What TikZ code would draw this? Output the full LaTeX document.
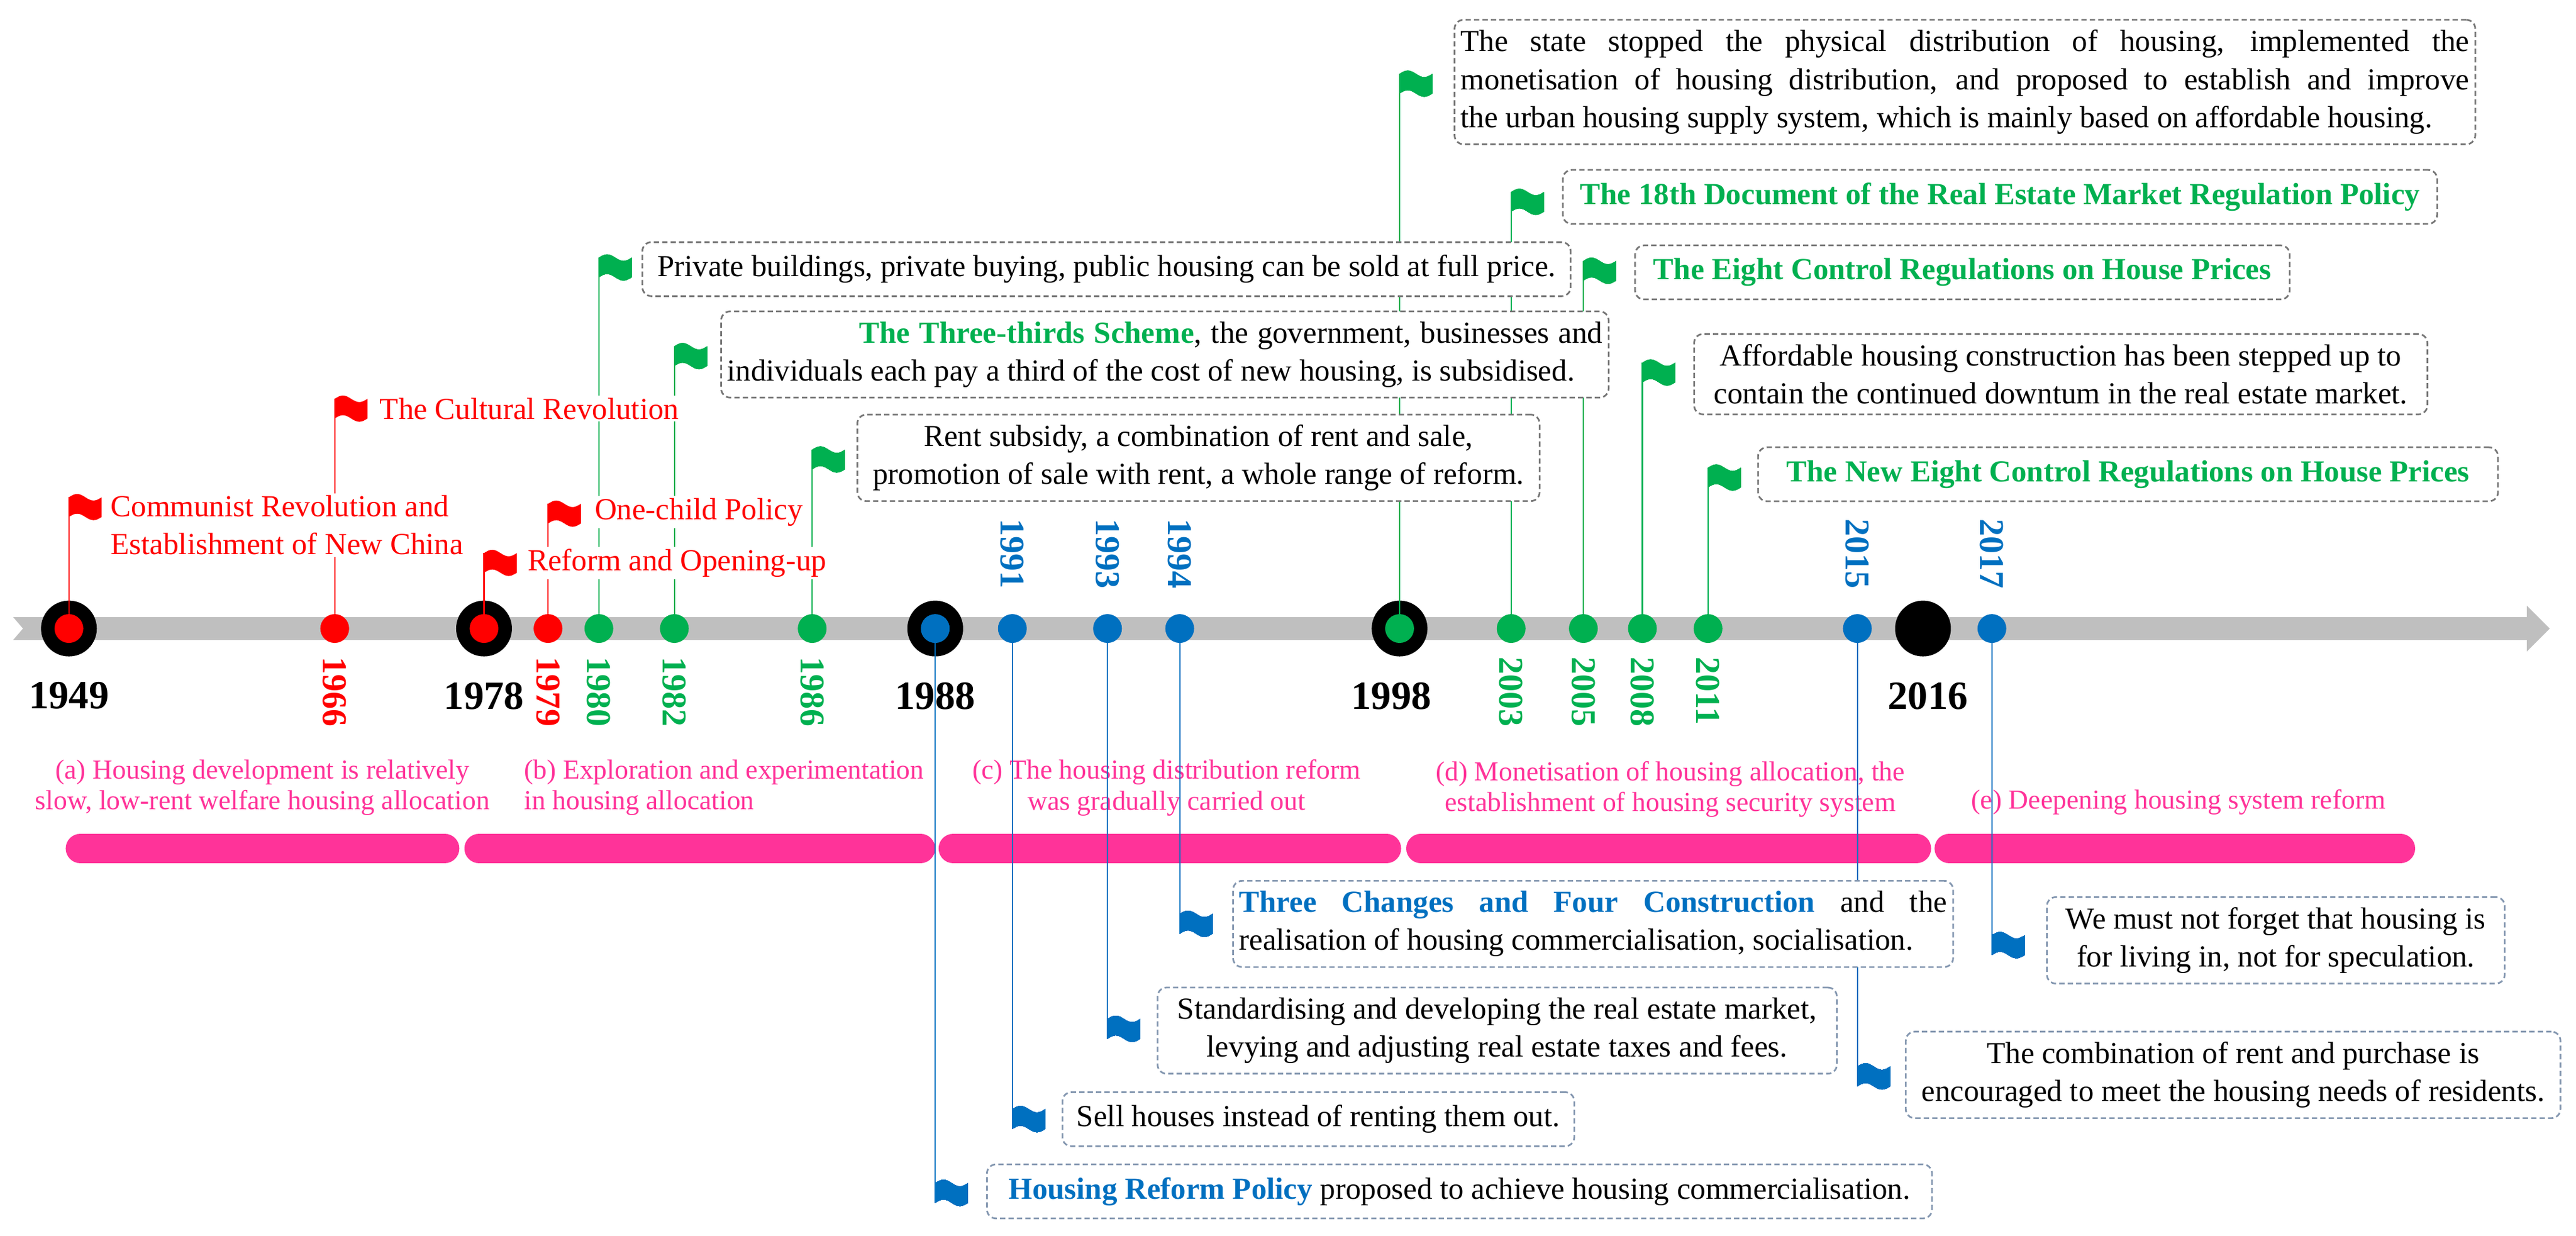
\documentclass[tikz,border=0pt]{standalone}
\usepackage{fontspec}
\setmainfont{Liberation Serif}
\definecolor{evred}{RGB}{255,0,0}
\definecolor{evgreen}{RGB}{0,176,80}
\definecolor{evblue}{RGB}{0,112,192}
\definecolor{evpink}{RGB}{255,51,153}
\definecolor{bargray}{RGB}{191,191,191}
\definecolor{boxgray}{RGB}{118,118,118}
\definecolor{boxblue}{RGB}{132,151,176}
\newcommand{\flagat}[3]{%
  \fill[#2, shift={(#1)}, yshift=#3] (0,0) sin (5,-2) cos (10,0) sin (15,2) cos (20,0)
    -- (20,12) sin (15,14) cos (10,12) sin (5,10) cos (0,12) -- cycle;}
\begin{document}
\begin{tikzpicture}[x=0.02734cm, y=-0.02734cm,
  dot/.style={circle, minimum size=0.48cm, inner sep=0pt},
  bigdot/.style={circle, fill=black, minimum size=0.93cm, inner sep=0pt},
  pole/.style={line width=0.6pt},
  bigyear/.style={font=\fontsize{19}{20}\selectfont\bfseries},
  smallyear/.style={font=\fontsize{16.5}{20}\selectfont\bfseries, rotate=-90, inner sep=0pt},
  event/.style={text=evred, fill=white, inner sep=1pt, anchor=west, align=left, font=\fontsize{14.5}{18}\selectfont},
  box/.style={draw=boxgray, dashed, dash pattern=on 2.5pt off 1.5pt, line width=0.8pt, rounded corners=0.15cm,
    fill=white, inner xsep=0.1cm, inner ysep=0.17cm, minimum height=0.9cm, anchor=west,
    font=\fontsize{14.5}{18}\selectfont},
  bbox/.style={box, draw=boxblue},
  gtitle/.style={text=evgreen, font=\fontsize{14.5}{18}\selectfont\bfseries},
  period/.style={evpink, line width=0.49cm, line cap=round},
  phase/.style={text=evpink, inner sep=1pt, font=\fontsize{13}{14.7}\selectfont}]
\useasboundingbox (0,0) rectangle (1570,753);
%period bars
\draw[period] (49,517) -- (271,517);
\draw[period] (292,517) -- (561,517);
\draw[period] (581,517) -- (845,517);
\draw[period] (866,517) -- (1168,517);
\draw[period] (1188,517) -- (1463,517);
%period labels
\node[phase, align=center] (pa) at (160,480) {(a) Housing development is relatively\\slow, low-rent welfare housing allocation};
\node[phase, align=left, anchor=west] (pb) at (318,480) {(b) Exploration and experimentation\\in housing allocation};
\node[phase, align=center] (pc) at (711,480) {(c) The housing distribution reform\\was gradually carried out};
\node[phase, align=center] (pd) at (1018,481) {(d) Monetisation of housing allocation, the\\establishment of housing security system};
\node[phase, anchor=west] (pe) at (1200,489) {(e) Deepening housing system reform};
%time axis
\fill[bargray] (8,376) -- (1540,376) -- (1540,369) -- (1554,383) -- (1540,397) -- (1540,390) -- (8,390) -- (14,383) -- cycle;
%flag ends
\coordinate (f1949) at (42,303);
\coordinate (f1966) at (204,243);
\coordinate (f1978) at (295,337);
\coordinate (f1979) at (334,307);
\coordinate (f1980) at (365,157);
\coordinate (f1982) at (411,211);
\coordinate (f1986) at (495,274);
\coordinate (f1998) at (853,45);
\coordinate (f2003) at (921,117);
\coordinate (f2005) at (965,159);
\coordinate (f2008) at (1001,221);
\coordinate (f2011) at (1041,285);
\coordinate (f1988) at (570,733);
\coordinate (f1991) at (617,688);
\coordinate (f1993) at (675,633);
\coordinate (f1994) at (719,569);
\coordinate (f2015) at (1132,662);
\coordinate (f2017) at (1214,582);
%big dots
\foreach \x/\yr/\c in {42/1949/evred, 295/1978/evred, 570/1988/evblue, 853/1998/evgreen}
{
  \node[bigdot] (y\yr) at (\x,383) {};
}
\node[bigdot] (y2016) at (1172,383) {};
%small dots (placed first, drawn again over the poles)
\foreach \x/\yr in {204/1966, 334/1979, 365/1980, 411/1982, 495/1986, 921/2003, 965/2005, 1001/2008, 1041/2011,
  617/1991, 675/1993, 719/1994, 1132/2015, 1214/2017}
  \coordinate (y\yr) at (\x,383);
%poles
\foreach \yr in {1949,1966,1978,1979}
  \draw[pole, evred] (y\yr.center) -- (f\yr);
\foreach \yr in {1980,1982,1986,1998,2003,2005,2008,2011}
  \draw[pole, evgreen] (y\yr.center) -- (f\yr);
\foreach \yr in {1988,1991,1993,1994,2015,2017}
  \draw[pole, evblue] (y\yr.center) -- (f\yr);
%inner dots and years
\foreach \x/\yr/\c in {42/1949/evred, 295/1978/evred, 570/1988/evblue, 853/1998/evgreen}
  \node[dot, fill=\c] at (\x,383) {};
\foreach \x/\yr in {42/1949, 295/1978, 570/1988, 848/1998, 1175/2016}
  \node[bigyear] (t\yr) at (\x,424) {\yr};
\foreach \x/\yr/\c in {204/1966/evred, 334/1979/evred, 365/1980/evgreen, 411/1982/evgreen, 495/1986/evgreen,
  921/2003/evgreen, 965/2005/evgreen, 1001/2008/evgreen, 1041/2011/evgreen}
{
  \node[dot, fill=\c] at (\x,383) {};
  \node[smallyear, text=\c, anchor=west] (t\yr) at (\x,400) {\yr};
}
\foreach \x/\yr in {617/1991, 675/1993, 719/1994, 1132/2015, 1214/2017}
{
  \node[dot, fill=evblue] at (\x,383) {};
  \node[smallyear, text=evblue, anchor=east] (t\yr) at (\x,359) {\yr};
}
%flags
\foreach \yr in {1949,1966,1978,1979}
  \flagat{f\yr}{evred}{0cm}
\foreach \yr in {1980,1982,1986,1998,2003,2005,2008,2011}
  \flagat{f\yr}{evgreen}{0cm}
\foreach \yr in {1988,1991,1993,1994,2015,2017}
  \flagat{f\yr}{evblue}{0.33cm}
%red events
\node[event] (e1949) at (66,320) {Communist Revolution and\\Establishment of New China};
\node[event] (e1966) at (230,249) {The Cultural Revolution};
\node[event] (e1978) at (320,343) {Reform and Opening-up};
\node[event] (e1979) at (361,312) {One-child Policy};
%green boxes
\node[box, minimum width=15.47cm] (b1980) at (391,164) {Private buildings, private buying, public housing can be sold at full price.};
\node[box, text width=14.59cm, align=justify] (b1982) at (439,216) {\hspace*{2.2cm}\textcolor{evgreen}{\textbf{The Three-thirds Scheme}}, the government, businesses and\linebreak individuals each pay a third of the cost of new housing, is subsidised.};
\node[box, minimum width=11.37cm, align=center] (b1986) at (522,279) {Rent subsidy, a combination of rent and sale,\\promotion of sale with rent, a whole range of reform.};
\node[box, text width=16.81cm, align=justify] (b1998) at (886,50) {The state stopped the physical distribution of housing, implemented the\linebreak monetisation of housing distribution, and proposed to establish and improve\linebreak the urban housing supply system, which is mainly based on affordable housing.};
\node[box, minimum width=14.57cm, gtitle] (b2003) at (952,120) {The 18th Document of the Real Estate Market Regulation Policy};
\node[box, minimum width=10.91cm, gtitle] (b2005) at (996,166) {The Eight Control Regulations on House Prices};
\node[box, minimum width=12.22cm, align=center] (b2008) at (1032,228) {Affordable housing construction has been stepped up to\\contain the continued downtum in the real estate market.};
\node[box, minimum width=12.33cm, gtitle] (b2011) at (1071,289) {The New Eight Control Regulations on House Prices};
%blue boxes
\node[bbox, minimum width=15.75cm] (b1988) at (601,726) {\textcolor{evblue}{\textbf{Housing Reform Policy}} proposed to achieve housing commercialisation.};
\node[bbox, minimum width=8.53cm] (b1991) at (647,682) {Sell houses instead of renting them out.};
\node[bbox, minimum width=11.32cm, align=center] (b1993) at (705,628) {Standardising and developing the real estate market,\\levying and adjusting real estate taxes and fees.};
\node[bbox, text width=11.8cm, align=justify] (b1994) at (751,563) {\textcolor{evblue}{\textbf{Three Changes and Four Construction}} and the\linebreak realisation of housing commercialisation, socialisation.};
\node[bbox, minimum width=10.91cm, align=center] (b2015) at (1161,655) {The combination of rent and purchase is\\encouraged to meet the housing needs of residents.};
\node[bbox, minimum width=7.63cm, align=center] (b2017) at (1247,573) {We must not forget that housing is\\for living in, not for speculation.};
\end{tikzpicture}
\end{document}
